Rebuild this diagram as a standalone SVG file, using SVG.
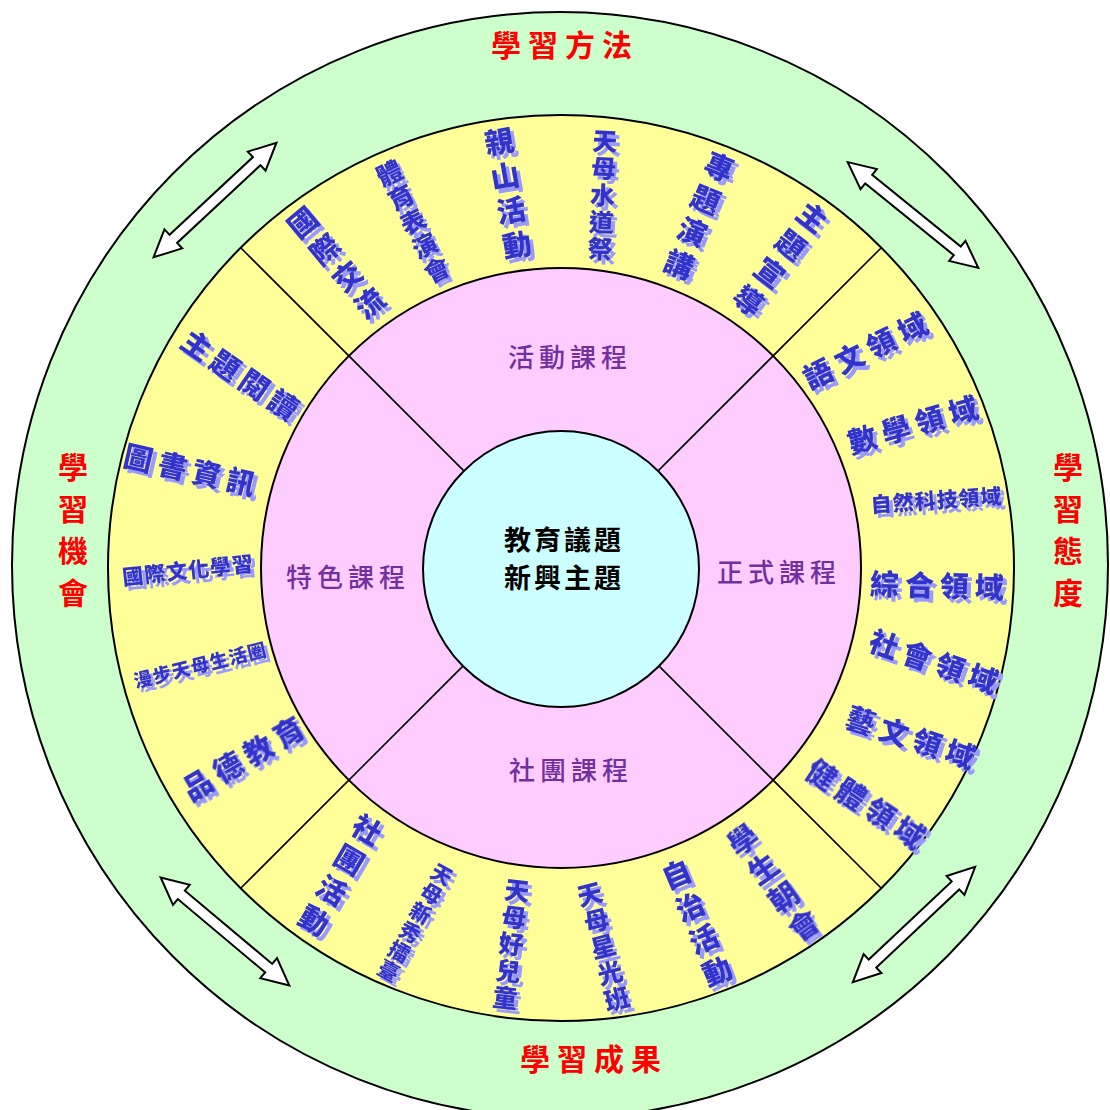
<svg xmlns="http://www.w3.org/2000/svg" xmlns:xlink="http://www.w3.org/1999/xlink" width="1110" height="1110" viewBox="0 0 1110 1110">
<style>
.ring{stroke:#000;stroke-width:2}
.div{stroke:#000;stroke-width:1.6}
.arr{fill:#fff;stroke:#000;stroke-width:2;stroke-linejoin:miter}
.red{font-family:"Noto Sans CJK TC","Noto Sans CJK SC",sans-serif;font-weight:700;font-size:30px;fill:#ff0000;letter-spacing:7px;text-anchor:middle}
.redv{writing-mode:vertical-rl;letter-spacing:12px}
.pur{font-family:"Noto Sans CJK TC","Noto Sans CJK SC",sans-serif;font-weight:500;font-size:26px;fill:#7030a0;letter-spacing:5px;text-anchor:middle}
.ctr{font-family:"Noto Sans CJK TC","Noto Sans CJK SC",sans-serif;font-weight:700;font-size:27px;fill:#000;letter-spacing:3px;text-anchor:middle}
.blu{font-family:"Noto Sans CJK TC","Noto Sans CJK SC",sans-serif;font-weight:900;fill:#3333cc;text-anchor:middle;dominant-baseline:central}
.v{writing-mode:vertical-rl}
.s30{font-size:29px;letter-spacing:6px}
.s26{font-size:25px;letter-spacing:2px}
.s22{font-size:21px;letter-spacing:1px}
.s19{font-size:18.5px;letter-spacing:1px}
</style>
<defs>
<filter id="sh" x="-5%" y="-5%" width="110%" height="110%">
<feOffset in="SourceAlpha" dx="4" dy="4" result="o"/>
<feFlood flood-color="#9999ff" result="c"/>
<feComposite in="c" in2="o" operator="in" result="s"/>
<feMerge><feMergeNode in="s"/><feMergeNode in="SourceGraphic"/></feMerge>
</filter>
<polygon id="dbl" class="arr" points="-84,0 -57,-13 -57,-5.5 57,-5.5 57,-13 84,0 57,13 57,5.5 -57,5.5 -57,13"/>
</defs>

<g id="rings">
<ellipse id="ring-outer" class="ring" cx="560" cy="565" rx="548" ry="553" fill="#ccffcc"/>
<circle id="ring-yellow" class="ring" cx="561" cy="568" r="453" fill="#ffff99"/>
<circle id="ring-pink" class="ring" cx="561" cy="568" r="300" fill="#ffccff"/>
</g>

<g id="connectors">
<line class="div" x1="463.4" y1="470.4" x2="240.7" y2="247.7"/>
<line class="div" x1="658.6" y1="470.4" x2="881.3" y2="247.7"/>
<line class="div" x1="463.4" y1="665.6" x2="240.7" y2="888.3"/>
<line class="div" x1="658.6" y1="665.6" x2="881.3" y2="888.3"/>
<use xlink:href="#dbl" transform="translate(215,200) rotate(-43)"/>
<use xlink:href="#dbl" transform="translate(913,215) rotate(39)"/>
<use xlink:href="#dbl" transform="translate(225,931.5) rotate(40)"/>
<use xlink:href="#dbl" transform="translate(914,924.5) rotate(-43.3)"/>
</g>

<g id="center">
<circle class="ring" cx="561" cy="569" r="138" fill="#ccffff"/>
<text class="ctr" x="564" y="550">教育議題</text>
<text class="ctr" x="564" y="588">新興主題</text>
</g>

<g id="outer-labels">
<g id="lbl-method"><text class="red" x="565" y="56">學習方法</text></g>
<g id="lbl-result"><text class="red" x="594" y="1070">學習成果</text></g>
<g id="lbl-chance"><text class="red redv" x="73" y="536">學習機會</text></g>
<g id="lbl-attitude"><text class="red redv" x="1068" y="536">學習態度</text></g>
</g>

<g id="course-labels">
<g id="c-activity"><text class="pur" x="570" y="367">活動課程</text></g>
<g id="c-formal"><text class="pur" x="779" y="582">正式課程</text></g>
<g id="c-club"><text class="pur" x="571" y="780">社團課程</text></g>
<g id="c-special"><text class="pur" x="348" y="587">特色課程</text></g>
</g>

<g id="items" filter="url(#sh)">
<g id="t1"><text class="blu v s30" transform="translate(338,265) rotate(-39.8)">國際交流</text></g>
<g id="t2"><text class="blu v s26" transform="translate(413.5,222.5) rotate(-26.3)">體育表演會</text></g>
<g id="t3"><text class="blu v s30" transform="translate(508.5,196) rotate(-9.8)">親山活動</text></g>
<g id="t4"><text class="blu v s26" transform="translate(602.5,196) rotate(2.6)">天母水道祭</text></g>
<g id="t5"><text class="blu v s30" transform="translate(698,218.5) rotate(22.4)">專題演講</text></g>
<g id="t6"><text class="blu v s30" transform="translate(778.5,261) rotate(37.5)">主題宣導</text></g>

<g id="b1"><text class="blu v s30" transform="translate(339,877.5) rotate(30.3)">社團活動</text></g>
<g id="b2"><text class="blu v s22" transform="translate(415,923) rotate(28.9)">天母新秀擂臺</text></g>
<g id="b3"><text class="blu v s26" transform="translate(511,945) rotate(6.2)">天母好兒童</text></g>
<g id="b4"><text class="blu v s26" transform="translate(603.5,947.5) rotate(-14.4)">天母星光班</text></g>
<g id="b5"><text class="blu v s30" transform="translate(698,925.5) rotate(-22.8)">自治活動</text></g>
<g id="b6"><text class="blu v s30" transform="translate(775,885) rotate(-35.5)">學生朝會</text></g>

<g id="r1"><text class="blu s30" transform="translate(867,347.5) rotate(-26.1)">語文領域</text></g>
<g id="r2"><text class="blu s30" transform="translate(915,422) rotate(-16.1)">數學領域</text></g>
<g id="r3"><text class="blu s22" transform="translate(936.5,499) rotate(-4)">自然科技領域</text></g>
<g id="r4"><text class="blu s30" transform="translate(940,583.5) rotate(1.7)">綜合領域</text></g>
<g id="r5"><text class="blu s30" transform="translate(937,660.5) rotate(19.3)">社會領域</text></g>
<g id="r6"><text class="blu s30" transform="translate(914,736.5) rotate(18.6)">藝文領域</text></g>
<g id="r7"><text class="blu s30" transform="translate(869,804) rotate(33.4)">健體領域</text></g>

<g id="l1"><text class="blu s30" transform="translate(243.5,375) rotate(34.5)">主題閱讀</text></g>
<g id="l2"><text class="blu s30" transform="translate(193,468.5) rotate(13)">圖書資訊</text></g>
<g id="l3"><text class="blu s22" transform="translate(188,569) rotate(-6.2)">國際文化學習</text></g>
<g id="l4"><text class="blu s19" transform="translate(200,664) rotate(-13.8)">漫步天母生活圈</text></g>
<g id="l5"><text class="blu s30" transform="translate(245,756) rotate(-30)">品德教育</text></g>
</g>
</svg>
